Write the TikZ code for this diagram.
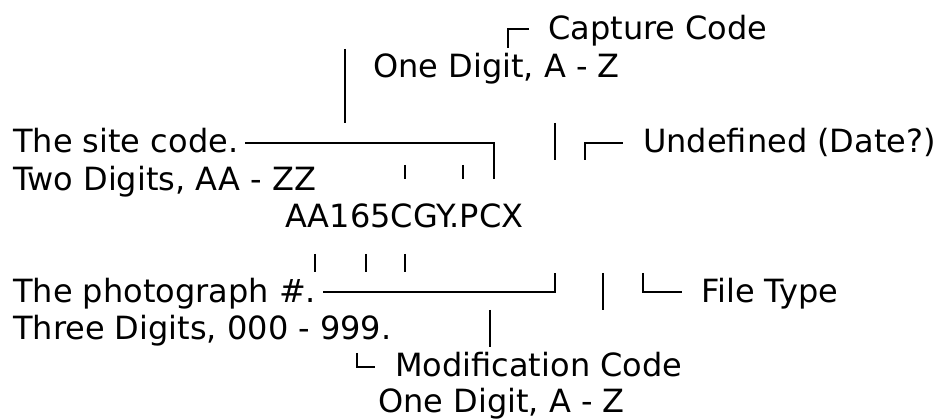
\documentclass[tikz,border=0pt]{standalone}
\usepackage{fontspec}
\setmainfont{DejaVu Sans}
\begin{document}
\begin{tikzpicture}[x=1pt,y=-1pt,
  lbl/.style={anchor=base west, inner sep=0pt, font=\fontsize{32}{38}\selectfont},
  rule/.style={line width=2.4pt, line cap=butt, line join=miter}]
\useasboundingbox (0,0) rectangle (937,419);

% labels
\node[lbl] (cap)    at (548,40)  {Capture Code};
\node[lbl] (cap2)   at (373,78)  {One Digit, A - Z};
\node[lbl] (site)   at (13,153)  {The site code.};
\node[lbl] (und)    at (643,153) {Undefined (Date?)};
\node[lbl] (site2)  at (13,191)  {Two Digits, AA - ZZ};
\node[lbl] (fname)  at (285,228) {AA165CGY.PCX};
\node[lbl] (photo)  at (13,303)  {The photograph \#.};
\node[lbl] (ftype)  at (701,303) {File Type};
\node[lbl] (photo2) at (13,340)  {Three Digits, 000 - 999.};
\node[lbl] (mod)    at (395,377) {Modification Code};
\node[lbl] (mod2)   at (378,413) {One Digit, A - Z};

% pointer lines above the file name
\draw[rule] (508,48) -- (508,29) -- (529,29);
\draw[rule] (345,49) -- (345,123);
\draw[rule] (245,143) -- (494,143) -- (494,179);
\draw[rule] (555,123) -- (555,160);
\draw[rule] (585,160) -- (585,143) -- (623,143);
\draw[rule] (405,165) -- (405,179);
\draw[rule] (463,165) -- (463,179);

% pointer lines below the file name
\draw[rule] (315,254) -- (315,272);
\draw[rule] (366,254) -- (366,272);
\draw[rule] (405,254) -- (405,272);
\draw[rule] (323,292) -- (555,292) -- (555,273);
\draw[rule] (603,273) -- (603,310);
\draw[rule] (643,273) -- (643,292) -- (682,292);
\draw[rule] (490,310) -- (490,347);
\draw[rule] (357,353) -- (357,367) -- (375,367);
\end{tikzpicture}
\end{document}
